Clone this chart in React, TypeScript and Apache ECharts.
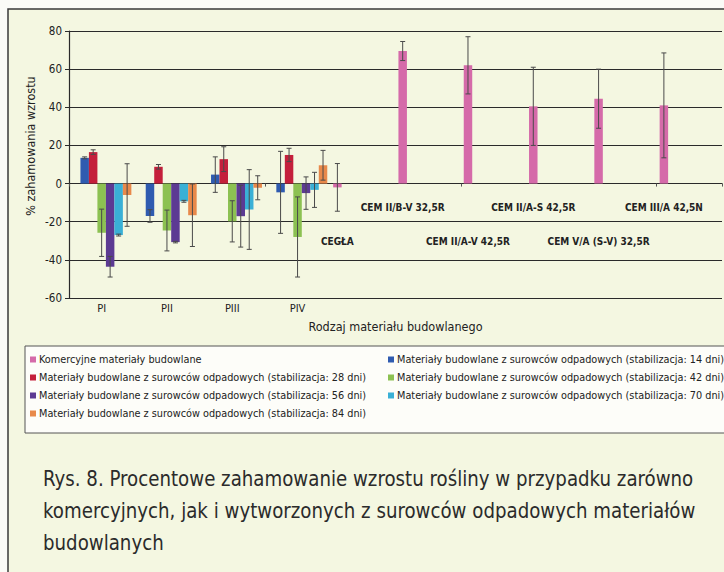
import React, { useEffect, useRef } from "react";
import * as echarts from "echarts";

const categories = [
  "PI", "PII", "PIII", "PIV", "CEGŁA",
  "CEM II/B-V 32,5R", "CEM II/A-V 42,5R", "CEM II/A-S 42,5R", "CEM V/A (S-V) 32,5R", "CEM III/A 42,5N",
];

const seriesNames = [
  "Komercyjne materiały budowlane",
  "Materiały budowlane z surowców odpadowych (stabilizacja: 14 dni)",
  "Materiały budowlane z surowców odpadowych (stabilizacja: 28 dni)",
  "Materiały budowlane z surowców odpadowych (stabilizacja: 42 dni)",
  "Materiały budowlane z surowców odpadowych (stabilizacja: 56 dni)",
  "Materiały budowlane z surowców odpadowych (stabilizacja: 70 dni)",
  "Materiały budowlane z surowców odpadowych (stabilizacja: 84 dni)",
];

const komercyjne = [null, null, null, null, -2, 69.5, 62, 40.5, 44.5, 41];
const komercyjneErr = [null, null, null, null, 12.5, 5, 15, 20.5, 15.5, 27.5];
const stab14 = [13.5, -17, 4.7, -4.6, null, null, null, null, null, null];
const stab14Err = [0.5, 3.3, 9.3, 21.5, null, null, null, null, null, null];
const stab28 = [16.5, 8.8, 12.8, 15, null, null, null, null, null, null];
const stab28Err = [1.2, 1.2, 6.5, 3.5, null, null, null, null, null, null];
const stab42 = [-25.8, -24.6, -19.8, -28, null, null, null, null, null, null];
const stab42Err = [12.4, 10.7, 10.8, 21, null, null, null, null, null, null];
const stab56 = [-43.6, -30.7, -17.1, -5, null, null, null, null, null, null];
const stab56Err = [5.4, 0.4, 16.2, 8.5, null, null, null, null, null, null];
const stab70 = [-27, -9.3, -13.6, -3.3, null, null, null, null, null, null];
const stab70Err = [0.5, 0.5, 20.9, 9.2, null, null, null, null, null, null];
const stab84 = [-6, -16.6, -2.2, 9.6, null, null, null, null, null, null];
const stab84Err = [16.4, 16.4, 6.3, 7.8, null, null, null, null, null, null];

const yTicks = { min: -60, max: 80, interval: 20 };
const captionLines = [
  "Rys. 8. Procentowe zahamowanie wzrostu rośliny w przypadku zarówno",
  "komercyjnych, jak i wytworzonych z surowców odpadowych materiałów",
  "budowlanych",
];

const seriesValues = [komercyjne, stab14, stab28, stab42, stab56, stab70, stab84];
const seriesErrors = [komercyjneErr, stab14Err, stab28Err, stab42Err, stab56Err, stab70Err, stab84Err];
const colors = ["#d56aa9", "#2f5bb0", "#c41f3b", "#8cc152", "#5c3a93", "#3ab0d6", "#e8894a"];

const FONT = "'DejaVu Sans Condensed', 'DejaVu Sans', sans-serif";
const GAP = 0.09;

export default function App() {
  const ref = useRef<HTMLDivElement>(null);
  useEffect(() => {
    if (!ref.current) return;
    const chart = echarts.init(ref.current, null, { renderer: "svg" });

    const errData: any[] = [];
    seriesValues.forEach((vals, s) => {
      vals.forEach((v, ci) => {
        const e = seriesErrors[s][ci];
        if (v !== null && e !== null) errData.push([ci, v, e, s]);
      });
    });

    // label rows for the cement/brick category names (0 = upper row, 1 = lower row)
    const labelRowValue = [-12.3, -30.5];
    const labelRows = [null, null, null, null, 1, 0, 1, 0, 1, 0];
    const labelData: any[] = [];
    categories.forEach((c, ci) => {
      const r = labelRows[ci];
      if (r !== null) labelData.push([ci, labelRowValue[r], c]);
    });

    const barSeries = seriesNames.map((name, s) => ({
      name,
      type: "bar",
      data: seriesValues[s],
      barGap: "0%",
      barCategoryGap: GAP * 100 + "%",
      itemStyle: { color: colors[s] },
      z: 2,
    }));

    const legendCommon = {
      orient: "vertical",
      top: 354,
      padding: 0,
      icon: "rect",
      itemWidth: 6,
      itemHeight: 6,
      itemGap: 7,
      textStyle: { fontSize: 10.8, color: "#222", fontFamily: FONT, padding: [0, 0, 0, -2] },
      z: 5,
    };

    const option: any = {
      animation: false,
      backgroundColor: "#f4f7e1",
      textStyle: { fontFamily: FONT },
      grid: { left: 69, top: 31, right: 2, bottom: 274, containLabel: false },
      xAxis: [
        {
          type: "category",
          data: categories,
          position: "bottom",
          axisLine: { show: false, onZero: false },
          axisTick: { show: false },
          axisLabel: {
            formatter: (v: string, i: number) => (i < 4 ? v : ""),
            fontSize: 11,
            color: "#222",
            fontFamily: FONT,
            margin: 5,
          },
          name: "Rodzaj materiału budowlanego",
          nameLocation: "middle",
          nameGap: 22,
          nameTextStyle: { fontSize: 12.5, color: "#222", fontFamily: FONT },
        },
        {
          type: "category",
          data: categories,
          position: "top",
          axisLine: { show: true, onZero: true, lineStyle: { color: "#2a2a2a", width: 1.2 } },
          axisTick: { show: true, inside: true, length: 3, lineStyle: { color: "#555" } },
          axisLabel: { show: false },
        },
      ],
      yAxis: {
        type: "value",
        min: yTicks.min,
        max: yTicks.max,
        interval: yTicks.interval,
        axisLine: { show: true, lineStyle: { color: "#2a2a2a", width: 1.2 } },
        axisTick: { show: true, length: 4, lineStyle: { color: "#2a2a2a" } },
        axisLabel: { fontSize: 11.5, color: "#222", fontFamily: FONT, margin: 7 },
        splitLine: { show: true, lineStyle: { color: "#2a2a2a", width: 1.2 } },
      },
      legend: [
        {
          ...legendCommon,
          data: [seriesNames[0], seriesNames[2], seriesNames[4], seriesNames[6]],
          left: 30,
        },
        {
          ...legendCommon,
          data: [seriesNames[1], seriesNames[3], seriesNames[5]],
          left: 388,
        },
      ],
      graphic: [
        { type: "rect", left: 0, top: 0, shape: { width: 724, height: 9 }, style: { fill: "#fbfbf7" }, z: 0 },
        { type: "rect", left: 0, top: 0, shape: { width: 8, height: 572 }, style: { fill: "#fbfbf7" }, z: 0 },
        {
          type: "rect",
          shape: { x: 8, y: 9, width: 730, height: 580 },
          style: { fill: "none", stroke: "#3a3a3a", lineWidth: 1.5 },
          z: 1,
        },
        {
          type: "rect",
          shape: { x: 25, y: 346, width: 710, height: 87 },
          style: { fill: "#fdfdf9", stroke: "#555", lineWidth: 1 },
          z: 1,
        },
        {
          type: "text",
          x: 30,
          y: 146,
          rotation: Math.PI / 2,
          style: {
            text: "% zahamowania wzrostu",
            fontSize: 12.5,
            fontFamily: FONT,
            fill: "#222",
            align: "center",
            verticalAlign: "middle",
          },
        },
        ...captionLines.map((t, i) => ({
          type: "text",
          x: 43,
          y: 478 + i * 32,
          scaleX: 0.92,
          style: {
            text: t,
            fontSize: 22,
            fontFamily: FONT,
            fill: "#2b2b2b",
            align: "left",
            verticalAlign: "middle",
          },
        })),
      ],
      series: [
        ...barSeries,
        {
          type: "custom",
          name: "errors",
          data: errData,
          z: 4,
          clip: false,
          silent: true,
          renderItem: (params: any, api: any) => {
            const ci = api.value(0);
            const v = api.value(1);
            const e = api.value(2);
            const s = api.value(3);
            const band = api.size([1, 0])[0];
            const bw = (band * (1 - GAP)) / 7;
            const x = api.coord([ci, 0])[0] + (s - 3) * bw;
            const yTop = api.coord([ci, v + e])[1];
            const yBot = api.coord([ci, v - e])[1];
            const st = { stroke: "#4a4a4a", lineWidth: 1 };
            return {
              type: "group",
              children: [
                { type: "line", shape: { x1: x, y1: yTop, x2: x, y2: yBot }, style: st },
                { type: "line", shape: { x1: x - 2.5, y1: yTop, x2: x + 2.5, y2: yTop }, style: st },
                { type: "line", shape: { x1: x - 2.5, y1: yBot, x2: x + 2.5, y2: yBot }, style: st },
              ],
            };
          },
        },
        {
          type: "custom",
          name: "labels",
          data: labelData,
          z: 4,
          clip: false,
          silent: true,
          renderItem: (params: any, api: any) => {
            const ci = api.value(0);
            const yv = api.value(1);
            const band = api.size([1, 0])[0];
            const bw = (band * (1 - GAP)) / 7;
            const p = api.coord([ci, yv]);
            return {
              type: "text",
              x: p[0] - 3 * bw,
              y: p[1],
              style: {
                text: categories[ci],
                fontSize: 10,
                fontWeight: "bold",
                fontFamily: FONT,
                fill: "#222",
                align: "center",
                verticalAlign: "middle",
              },
            };
          },
        },
      ],
    };
    chart.setOption(option);
    return () => chart.dispose();
  }, []);
  return (
    <div
      ref={ref}
      style={{ position: "fixed", left: 0, top: 0, width: 724, height: 572 }}
    />
  );
}
